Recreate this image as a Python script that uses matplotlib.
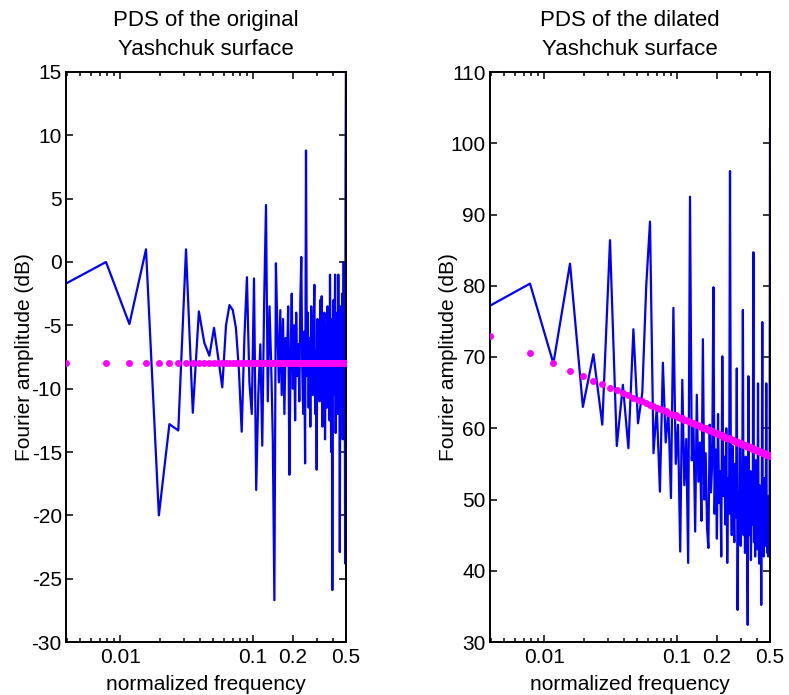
import numpy as np
import matplotlib
matplotlib.use("Agg")
import matplotlib.pyplot as plt
from matplotlib.ticker import FixedLocator, FixedFormatter, LogLocator, NullFormatter

plt.rcParams["font.family"] = ["Liberation Sans", "DejaVu Sans"]
plt.rcParams["axes.unicode_minus"] = False

# frequency bins k/256, k = 1..128
n_bins = 128
freq = np.arange(1, n_bins + 1) / 256.0

# PDS of the original surface (dB), one value per bin
pds_orig = [
    -1.7, 0.0, -4.9, 1.0, -20.0, -12.8, -13.3, 1.0, -11.9, -3.9,
    -6.4, -7.4, -5.2, -7.6, -9.9, -5.0, -3.4, -3.8, -5.2, -8.5,
    -13.4, -6.0, -1.2, -9.5, -12.0, -1.3, -18.0, -10.5, -6.5, -14.5,
    -3.0, 4.5, -11.0, -3.5, -8.0, -14.0, -26.7, -0.1, -5.5, -9.5,
    -3.8, -10.5, -4.5, -12.0, -6.0, -8.0, -3.5, -16.8, -7.5, -2.5,
    -10.0, -5.0, -12.5, -4.0, -9.0, -6.5, -11.0, -3.0, 0.4, -8.5,
    -12.0, -5.5, -15.9, 8.8, -9.0, -4.0, -11.5, -6.0, -13.0, -3.5,
    -8.0, -10.5, -5.0, -1.8, -12.0, -7.0, -16.4, -4.5, -9.5, -6.0,
    -11.0, -3.0, -8.5, -2.7, -13.0, -6.5, -10.0, -4.0, -14.0, -7.0,
    -5.0, -11.5, -3.5, -9.0, -6.0, -12.5, -1.0, -8.0, -15.0, -4.5,
    -25.9, -7.5, -3.0, -10.5, -5.5, -1.0, -13.5, -6.0, -9.5, -4.0,
    -12.0, -1.0, -8.5, -5.0, -22.9, -7.0, -3.5, -11.0, -6.0, -2.5,
    -14.0, -5.5, 0.0, -9.0, -4.0, -23.8, 7.0, 17.0,
]

# fitted level for the original surface (flat)
fit_orig = [
    -8.0, -8.0, -8.0, -8.0, -8.0, -8.0, -8.0, -8.0, -8.0, -8.0,
    -8.0, -8.0, -8.0, -8.0, -8.0, -8.0, -8.0, -8.0, -8.0, -8.0,
    -8.0, -8.0, -8.0, -8.0, -8.0, -8.0, -8.0, -8.0, -8.0, -8.0,
    -8.0, -8.0, -8.0, -8.0, -8.0, -8.0, -8.0, -8.0, -8.0, -8.0,
    -8.0, -8.0, -8.0, -8.0, -8.0, -8.0, -8.0, -8.0, -8.0, -8.0,
    -8.0, -8.0, -8.0, -8.0, -8.0, -8.0, -8.0, -8.0, -8.0, -8.0,
    -8.0, -8.0, -8.0, -8.0, -8.0, -8.0, -8.0, -8.0, -8.0, -8.0,
    -8.0, -8.0, -8.0, -8.0, -8.0, -8.0, -8.0, -8.0, -8.0, -8.0,
    -8.0, -8.0, -8.0, -8.0, -8.0, -8.0, -8.0, -8.0, -8.0, -8.0,
    -8.0, -8.0, -8.0, -8.0, -8.0, -8.0, -8.0, -8.0, -8.0, -8.0,
    -8.0, -8.0, -8.0, -8.0, -8.0, -8.0, -8.0, -8.0, -8.0, -8.0,
    -8.0, -8.0, -8.0, -8.0, -8.0, -8.0, -8.0, -8.0, -8.0, -8.0,
    -8.0, -8.0, -8.0, -8.0, -8.0, -8.0, -8.0, -8.0,
]

# PDS of the dilated surface (dB)
pds_dil = [
    77.2, 80.3, 69.1, 83.1, 63.0, 70.4, 60.5, 86.4, 57.5, 66.1,
    57.2, 73.9, 60.7, 65.0, 80.1, 89.0, 56.5, 63.0, 51.1, 69.2,
    58.0, 62.5, 50.2, 76.9, 55.0, 60.5, 42.7, 66.8, 52.0, 58.5,
    41.1, 92.5, 55.5, 60.0, 45.5, 64.7, 52.5, 58.0, 47.0, 72.5,
    50.0, 56.5, 46.0, 43.2, 60.5, 51.0, 55.0, 79.8, 48.0, 57.0,
    44.5, 62.0, 49.5, 54.0, 42.0, 70.1, 50.5, 56.0, 46.5, 60.0,
    41.1, 53.0, 48.0, 96.1, 52.0, 45.0, 57.5, 49.0, 44.0, 55.0,
    47.5, 68.4, 34.5, 51.0, 46.0, 58.0, 43.5, 50.0, 47.0, 76.6,
    45.0, 53.5, 42.5, 56.0, 48.0, 44.0, 32.4, 67.3, 49.5, 45.0,
    54.0, 41.5, 50.0, 46.5, 52.5, 84.7, 44.0, 49.0, 42.0, 55.5,
    46.0, 50.5, 43.0, 66.3, 47.5, 41.0, 52.0, 45.0, 48.5, 35.2,
    50.0, 74.9, 44.5, 47.5, 42.0, 53.0, 46.0, 43.5, 49.0, 66.3,
    45.5, 42.5, 48.0, 42.0, 50.5, 44.0, 47.0, 102.0,
]

# fitted trend for the dilated surface
fit_dil = [
    72.9, 70.5, 69.1, 68.1, 67.3, 66.7, 66.2, 65.7, 65.3, 64.9,
    64.6, 64.3, 64.0, 63.8, 63.5, 63.3, 63.1, 62.9, 62.7, 62.5,
    62.4, 62.2, 62.0, 61.9, 61.8, 61.6, 61.5, 61.4, 61.2, 61.1,
    61.0, 60.9, 60.8, 60.7, 60.6, 60.5, 60.4, 60.3, 60.2, 60.1,
    60.0, 60.0, 59.9, 59.8, 59.7, 59.6, 59.6, 59.5, 59.4, 59.4,
    59.3, 59.2, 59.2, 59.1, 59.0, 59.0, 58.9, 58.8, 58.8, 58.7,
    58.7, 58.6, 58.6, 58.5, 58.5, 58.4, 58.3, 58.3, 58.2, 58.2,
    58.1, 58.1, 58.1, 58.0, 58.0, 57.9, 57.9, 57.8, 57.8, 57.7,
    57.7, 57.6, 57.6, 57.6, 57.5, 57.5, 57.4, 57.4, 57.4, 57.3,
    57.3, 57.2, 57.2, 57.2, 57.1, 57.1, 57.1, 57.0, 57.0, 57.0,
    56.9, 56.9, 56.9, 56.8, 56.8, 56.8, 56.7, 56.7, 56.7, 56.6,
    56.6, 56.6, 56.5, 56.5, 56.5, 56.5, 56.4, 56.4, 56.4, 56.3,
    56.3, 56.3, 56.2, 56.2, 56.2, 56.2, 56.1, 56.1,
]

xtick_vals = [0.01, 0.1, 0.2, 0.5]
xtick_labels = ["0.01", "0.1", "0.2", "0.5"]

titles = ["PDS of the original\nYashchuk surface",
          "PDS of the dilated\nYashchuk surface"]

BLUE = "#0000FF"
MAGENTA = "#FF00FF"

fig = plt.figure(figsize=(7.89, 6.95), dpi=100)

ax_w = 280 / 789
ax_h = 570 / 695
ax_b = 53 / 695
ax1 = fig.add_axes([66 / 789, ax_b, ax_w, ax_h])
ax2 = fig.add_axes([490 / 789, ax_b, ax_w, ax_h])

panels = [
    (ax1, pds_orig, fit_orig, (-30, 15), np.arange(-30, 16, 5)),
    (ax2, pds_dil, fit_dil, (30, 110), np.arange(30, 111, 10)),
]

for (ax, pds, fit, ylim, yticks), title in zip(panels, titles):
    ax.plot(freq, pds, color=BLUE, linewidth=1.6, zorder=2)
    ax.plot(freq, fit, linestyle="none", marker="o", markersize=5,
            markerfacecolor=MAGENTA, markeredgewidth=0, zorder=3)

    ax.set_xscale("log")
    ax.set_xlim(1 / 256, 0.5)
    ax.set_ylim(*ylim)
    ax.set_yticks(yticks)

    ax.xaxis.set_major_locator(FixedLocator(xtick_vals))
    ax.xaxis.set_major_formatter(FixedFormatter(xtick_labels))
    ax.xaxis.set_minor_locator(LogLocator(base=10, subs=np.arange(2, 10)))
    ax.xaxis.set_minor_formatter(NullFormatter())

    ax.tick_params(which="both", direction="in", top=True, right=True,
                   labelsize=15, width=1.1)
    ax.tick_params(which="major", length=5)
    ax.tick_params(which="minor", length=3)
    ax.tick_params(axis="y", which="major", pad=3)
    ax.tick_params(axis="x", which="major", pad=4)

    for sp in ax.spines.values():
        sp.set_linewidth(1.4)

    ax.set_title(title, fontsize=16, pad=12, linespacing=1.55)
    ax.set_xlabel("normalized frequency", fontsize=15)
    ax.set_ylabel("Fourier amplitude (dB)", fontsize=15)
    ax.xaxis.set_label_coords(0.5, -0.058)
    ax.yaxis.set_label_coords(-0.116, 0.5)

fig.savefig("out.png", dpi=100)
